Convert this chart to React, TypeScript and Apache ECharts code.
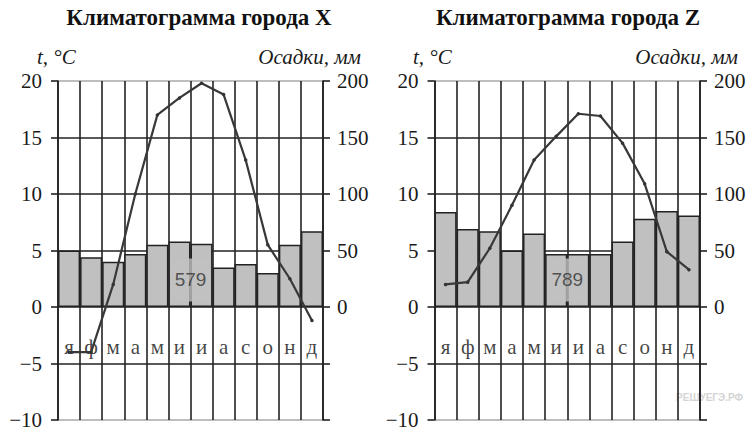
import React, { useEffect, useRef } from "react";
import * as echarts from "echarts";

const months = ["я", "ф", "м", "а", "м", "и", "и", "а", "с", "о", "н", "д"];
const tempX = [-4.0, -4.0, 2.0, 10.0, 17.0, 18.5, 19.8, 18.8, 13.0, 5.5, 2.5, -1.2];
const precipX = [50, 44, 40, 47, 55, 58, 56, 35, 38, 30, 55, 67];
const tempZ = [2.0, 2.2, 5.2, 9.0, 13.0, 15.1, 17.1, 16.9, 14.5, 10.9, 4.9, 3.3];
const precipZ = [84, 69, 67, 50, 65, 47, 47, 47, 58, 78, 85, 81];
const totals = ["579", "789"];
const titles = ["Климатограмма города X", "Климатограмма города Z"];
const tempTicks = { min: -10, max: 20, interval: 5 };
const precipTicks = { min: -100, max: 200, interval: 50 };
const monthLabelLevel = -3.5;
const totalLabelPos = [6, 2.4];

const SERIF = "Liberation Serif";
const SANS = "Liberation Sans";

export default function App() {
  const ref = useRef<HTMLDivElement>(null);
  useEffect(() => {
    if (!ref.current) return;
    const chart = echarts.init(ref.current, undefined, { renderer: "svg" });
    const grids = [
      { left: 58, top: 81, width: 265, height: 339 },
      { left: 434.5, top: 81, width: 265.5, height: 339 },
    ];
    const temps = [tempX, tempZ];
    const precs = [precipX, precipZ];
    const xAxis: any[] = [];
    const yAxis: any[] = [];
    const series: any[] = [];
    grids.forEach((g, i) => {
      xAxis.push({
        type: "category",
        gridIndex: i,
        data: months,
        boundaryGap: true,
        axisLine: { show: false },
        axisTick: { show: false },
        axisLabel: { show: false },
        splitLine: { show: true, interval: 0, lineStyle: { color: "#222", width: 1.6 } },
      });
      xAxis.push({ type: "value", gridIndex: i, min: 0, max: 12, show: false });
      yAxis.push({
        type: "value",
        gridIndex: i,
        position: "left",
        ...tempTicks,
        axisLine: { show: true, lineStyle: { color: "#222", width: 1.6 } },
        axisTick: { show: true, length: 7, lineStyle: { color: "#222", width: 1.6 } },
        axisLabel: {
          margin: 16,
          fontFamily: SERIF,
          fontSize: 21,
          color: "#1a1a1a",
          formatter: (v: number) => (v < 0 ? "\u2212" + Math.abs(v) : String(v)),
        },
        splitLine: {
          show: true,
          lineStyle: {
            color: ["#a8a8a8", "#222", "#222", "#222", "#222", "#222", "#a8a8a8"],
            width: 1.6,
          },
        },
      });
      yAxis.push({
        type: "value",
        gridIndex: i,
        position: "right",
        ...precipTicks,
        axisLine: { show: true, lineStyle: { color: "#222", width: 1.6 } },
        axisTick: { show: true, length: 7, lineStyle: { color: "#222", width: 1.6 } },
        axisLabel: {
          margin: 14,
          fontFamily: SERIF,
          fontSize: 21,
          color: "#1a1a1a",
          formatter: (v: number) => (v < 0 ? "" : String(v)),
        },
        splitLine: { show: false },
      });
      series.push({
        type: "bar",
        xAxisIndex: 2 * i,
        yAxisIndex: 2 * i + 1,
        data: precs[i],
        barWidth: "100%",
        barCategoryGap: 0,
        itemStyle: { color: "#c0c0c0", borderColor: "#222", borderWidth: 1.5 },
        z: 2,
      });
      series.push({
        type: "line",
        xAxisIndex: 2 * i,
        yAxisIndex: 2 * i,
        data: temps[i],
        symbol: "circle",
        symbolSize: 3.5,
        itemStyle: { color: "#333" },
        lineStyle: { color: "#383838", width: 2.2 },
        z: 5,
      });
      series.push({
        type: "scatter",
        xAxisIndex: 2 * i + 1,
        yAxisIndex: 2 * i,
        data: months.map((m, k) => [k + 0.5, monthLabelLevel]),
        symbolSize: 0,
        silent: true,
        label: {
          show: true,
          position: "inside",
          formatter: (p: any) => months[p.dataIndex],
          fontFamily: SERIF,
          fontSize: 21,
          color: "#111",
        },
        z: 4,
      });
      series.push({
        type: "scatter",
        xAxisIndex: 2 * i + 1,
        yAxisIndex: 2 * i,
        data: [totalLabelPos],
        symbolSize: 0,
        silent: true,
        label: {
          show: true,
          position: "inside",
          formatter: () => totals[i],
          fontFamily: SANS,
          fontSize: 19,
          color: "#333",
          backgroundColor: "#c0c0c0",
          padding: [12, 3],
        },
        z: 6,
      });
    });

    const italic = (text: string, x: number, align: string) => ({
      type: "text",
      x,
      y: 57,
      style: {
        text,
        fontFamily: SERIF,
        fontStyle: "italic",
        fontSize: 21,
        fill: "#1a1a1a",
        align,
        verticalAlign: "middle",
      },
    });
    const title = (text: string, x: number) => ({
      type: "text",
      x,
      y: 17,
      style: {
        text,
        fontFamily: SERIF,
        fontWeight: "bold",
        fontSize: 23,
        fill: "#111",
        align: "center",
        verticalAlign: "middle",
      },
    });

    chart.setOption({
      animation: false,
      backgroundColor: "#fff",
      grid: grids,
      xAxis,
      yAxis,
      series,
      graphic: [
        title(titles[0], 199),
        title(titles[1], 568),
        italic("t, °C", 37, "left"),
        italic("Осадки, мм", 361, "right"),
        italic("t, °C", 413, "left"),
        italic("Осадки, мм", 738, "right"),
        {
          type: "text",
          x: 743,
          y: 397,
          style: {
            text: "РЕШУЕГЭ.РФ",
            fontFamily: SANS,
            fontWeight: "bold",
            fontSize: 10,
            fill: "#d4d4d4",
            align: "right",
            verticalAlign: "middle",
          },
        },
      ],
    });
    return () => chart.dispose();
  }, []);
  return (
    <div
      ref={ref}
      style={{ position: "fixed", left: 0, top: 0, width: 749, height: 437, background: "#fff" }}
    />
  );
}
